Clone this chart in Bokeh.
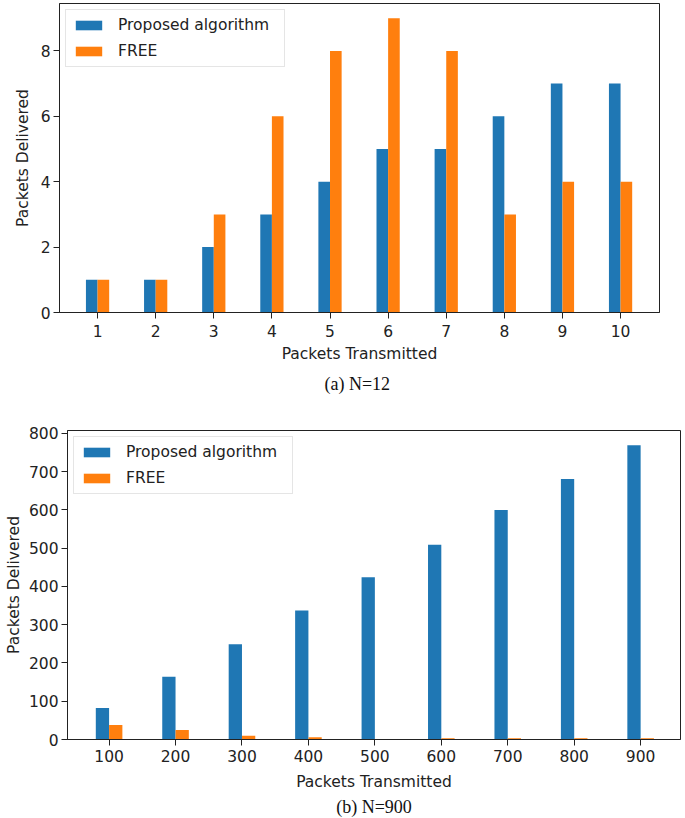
from bokeh.plotting import figure
from bokeh.models import Range1d, FixedTicker, Title, Legend, LegendItem, ColumnDataSource
from bokeh.transform import dodge
from bokeh.embed import file_html
from bokeh.resources import INLINE

# ---- data -------------------------------------------------------------
# (a) N=12
a_transmitted = [1, 2, 3, 4, 5, 6, 7, 8, 9, 10]
a_proposed = [1, 1, 2, 3, 4, 5, 5, 6, 7, 7]
a_free = [1, 1, 3, 6, 8, 9, 8, 3, 4, 4]
a_yticks = [0, 2, 4, 6, 8]

# (b) N=900
b_transmitted = [100, 200, 300, 400, 500, 600, 700, 800, 900]
b_proposed = [82, 164, 249, 337, 424, 509, 600, 681, 769]
b_free = [38, 25, 10, 6, 0, 3, 3, 3, 3]
b_yticks = [0, 100, 200, 300, 400, 500, 600, 700, 800]

series_names = ["Proposed algorithm", "FREE"]
series_colors = ["#1f77b4", "#ff7f0e"]
captions = ["(a)  N=12", "(b) N=900"]
x_label = "Packets Transmitted"
y_label = "Packets Delivered"

TXT = "#222222"
SANS = "DejaVu Sans"
SERIF = "Liberation Serif"
FS = "15.5px"


def panel(xs, prop, free, yticks, caption, width, height, borders, pad,
          ylab_standoff, xtick_standoff, xlab_standoff, cap_standoff):
    step = xs[1] - xs[0]
    src = ColumnDataSource(dict(x=xs, prop=prop, free=free))
    x0 = xs[0] - pad[0] * step
    x1 = xs[-1] + pad[1] * step
    ymax = max(max(prop), max(free)) * 1.05
    p = figure(
        width=width, height=height,
        x_range=Range1d(x0, x1), y_range=Range1d(0, ymax),
        output_backend="svg", toolbar_location=None,
        min_border_left=borders[0], min_border_right=borders[1],
        min_border_top=borders[2], min_border_bottom=borders[3],
    )
    w = 0.2 * step
    r1 = p.vbar(x=dodge("x", -0.1 * step, range=p.x_range), top="prop", width=w,
                source=src, color=series_colors[0], line_color=None)
    r2 = p.vbar(x=dodge("x", 0.1 * step, range=p.x_range), top="free", width=w,
                source=src, color=series_colors[1], line_color=None)

    p.xgrid.visible = False
    p.ygrid.visible = False
    p.background_fill_color = "white"
    p.border_fill_color = "white"
    p.outline_line_color = TXT
    p.outline_line_width = 1

    p.xaxis.ticker = FixedTicker(ticks=xs)
    p.yaxis.ticker = FixedTicker(ticks=yticks)
    for ax in (p.xaxis[0], p.yaxis[0]):
        ax.axis_line_color = TXT
        ax.major_tick_line_color = TXT
        ax.major_tick_in = 0
        ax.major_tick_out = 6
        ax.minor_tick_line_color = None
        ax.major_label_text_font = SANS
        ax.major_label_text_font_size = FS
        ax.major_label_text_color = TXT
        ax.axis_label_text_font = SANS
        ax.axis_label_text_font_size = FS
        ax.axis_label_text_font_style = "normal"
        ax.axis_label_text_color = TXT
    p.xaxis.axis_label = x_label
    p.yaxis.axis_label = y_label
    p.xaxis.major_label_standoff = xtick_standoff
    p.xaxis.axis_label_standoff = xlab_standoff
    p.yaxis.major_label_standoff = 3
    p.yaxis.axis_label_standoff = ylab_standoff

    legend = Legend(
        items=[LegendItem(label=series_names[0], renderers=[r1]),
               LegendItem(label=series_names[1], renderers=[r2])],
        location="top_left", margin=6, padding=6, spacing=8,
        glyph_width=33, glyph_height=12, label_height=18, label_width=160,
        label_standoff=13,
        label_text_font=SANS, label_text_font_size=FS, label_text_color=TXT,
        border_line_color="#cccccc", border_line_width=1,
        background_fill_color="white", background_fill_alpha=0.85,
    )
    p.add_layout(legend)

    t = Title(text=caption, align="center", text_font=SERIF,
              text_font_size="18px", text_font_style="normal",
              text_color="#111111", standoff=cap_standoff)
    p.add_layout(t, "below")
    return p


p1 = panel(a_transmitted, a_proposed, a_free, a_yticks, captions[0],
           width=669, height=400, borders=(59, 10, 3, 87), pad=(0.655, 0.67),
           ylab_standoff=6, xtick_standoff=6, xlab_standoff=5, cap_standoff=13)
p2 = panel(b_transmitted, b_proposed, b_free, b_yticks, captions[1],
           width=683, height=418, borders=(67, 3, 30, 79), pad=(0.626, 0.60),
           ylab_standoff=3, xtick_standoff=4, xlab_standoff=8, cap_standoff=3)

# two independent roots, stacked on the page (no shared frame alignment)
open("out.html", "w").write(file_html([p1, p2], INLINE))
